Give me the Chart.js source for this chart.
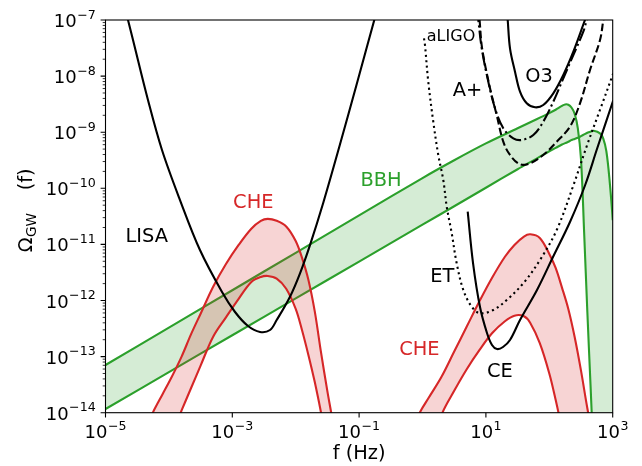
<!DOCTYPE html>
<html>
<head>
<meta charset="utf-8">
<script src="https://cdn.jsdelivr.net/npm/chart.js@4.4.1/dist/chart.umd.min.js"></script>
<style>
  html, body { margin: 0; padding: 0; background: #fff; }
  #wrap { width: 642px; height: 466px; }
</style>
</head>
<body>
<div id="wrap"><canvas id="c" width="642" height="466"></canvas></div>
<script>
// all values are log10: F = log10(f / Hz), O = log10(Omega_GW)

// detector curves
const lisaF = [-4.69, -4.645, -4.566, -4.33, -4.109, -3.825, -3.51, -3.162, -2.957, -2.752, -2.563, -2.405, -2.3, -2.09, -1.932, -1.776, -1.565, -1.301, -1.038, -0.757, -0.7];
const lisaO = [-6.8, -7.0, -7.357, -8.426, -9.317, -10.209, -11.1, -11.848, -12.205, -12.455, -12.561, -12.526, -12.348, -11.932, -11.515, -11.016, -10.257, -9.216, -8.144, -6.986, -6.77];

const o3F = [1.33, 1.344, 1.38, 1.459, 1.538, 1.644, 1.775, 1.905, 2.063, 2.221, 2.379, 2.563, 2.63];
const o3O = [-6.8, -7.0, -7.504, -7.921, -8.278, -8.485, -8.556, -8.515, -8.307, -7.98, -7.565, -7.0, -6.8];

const aplusF = [0.88, 0.9, 0.94, 1.065, 1.17, 1.274, 1.38, 1.538, 1.696, 1.905, 2.117, 2.326, 2.484, 2.642, 2.8, 2.852, 2.88];
const aplusO = [-6.8, -7.0, -7.504, -8.217, -8.693, -9.169, -9.406, -9.572, -9.554, -9.406, -9.169, -8.902, -8.485, -7.891, -7.357, -7.0, -6.8];

const ddF = [0.86, 0.88, 0.934, 1.038, 1.144, 1.274, 1.432, 1.565, 1.748, 1.905, 2.063, 2.221, 2.379, 2.536, 2.59, 2.64];
const ddO = [-6.8, -7.0, -7.504, -8.1, -8.574, -8.93, -9.109, -9.139, -9.05, -8.813, -8.456, -8.039, -7.624, -7.209, -7.0, -6.8];

const aligoF = [0.024, 0.039, 0.091, 0.17, 0.249, 0.328, 0.382, 0.461, 0.539, 0.644, 0.776, 0.907, 1.117, 1.328, 1.59, 1.853, 2.117, 2.379, 2.59, 2.8, 3.009, 3.1];
const aligoO = [-7.326, -7.446, -8.1, -8.813, -9.406, -9.852, -10.328, -10.802, -11.337, -11.813, -12.11, -12.228, -12.169, -11.991, -11.693, -11.278, -10.743, -9.95, -9.25, -8.6, -7.95, -7.66];

const ceF = [0.713, 0.797, 0.907, 1.017, 1.096, 1.175, 1.27, 1.38, 1.538, 1.806, 2.058, 2.326, 2.563, 2.752, 3.009, 3.1];
const ceO = [-10.417, -11.332, -12.116, -12.579, -12.793, -12.865, -12.829, -12.704, -12.348, -11.813, -11.225, -10.6, -9.95, -9.3, -8.43, -8.12];

// CHE bands (upper / lower edge on a shared frequency grid)
const cheLoF = [-4.35, -4.25, -4.1, -3.95, -3.8, -3.65, -3.5, -3.3, -3.1, -2.9, -2.7, -2.55, -2.44, -2.3, -2.15, -2.0, -1.9, -1.8, -1.7, -1.6, -1.5, -1.44, -1.35];
const cheLoUp = [-14.25, -13.99, -13.67, -13.35, -13.0, -12.6, -12.235, -11.75, -11.35, -11.01, -10.72, -10.58, -10.545, -10.58, -10.68, -10.94, -11.24, -11.63, -12.19, -12.93, -13.62, -14.0, -14.6];
const cheLoDn = [-15.5, -15.2, -14.8, -14.37, -13.96, -13.56, -13.16, -12.64, -12.3, -11.97, -11.67, -11.58, -11.563, -11.61, -11.79, -12.15, -12.53, -12.97, -13.45, -14.0, -14.6, -14.9, -15.4];

const cheHiF = [-0.15, -0.04, 0.1, 0.3, 0.5, 0.7, 0.9, 1.1, 1.3, 1.45, 1.6, 1.7, 1.85, 2.0, 2.1, 2.2, 2.3, 2.4, 2.5, 2.6, 2.7];
const cheHiUp = [-14.25, -13.99, -13.73, -13.36, -12.91, -12.46, -12.01, -11.59, -11.22, -11.01, -10.86, -10.82, -10.885, -11.17, -11.42, -11.77, -12.15, -12.65, -13.25, -13.92, -14.5];
const cheHiDn = [-15.6, -15.3, -14.8, -14.04, -13.61, -13.22, -12.88, -12.58, -12.37, -12.27, -12.28, -12.4, -12.76, -13.3, -13.77, -14.3, -14.9, -15.5, -16.0, -16.5, -17.0];

// BBH band
const bbhF = [-5.1, -5, -4, -3, -2, -1, 0, 0.5, 1, 1.5, 1.8, 2.0, 2.1, 2.2, 2.25, 2.3, 2.35, 2.4, 2.45, 2.5, 2.55, 2.6, 2.65, 2.7, 2.8, 2.85, 2.9, 2.95, 3.0, 3.05, 3.1, 3.2];
const bbhUp = [-13.217, -13.15, -12.483, -11.817, -11.15, -10.483, -9.817, -9.5, -9.2, -8.93, -8.77, -8.66, -8.6, -8.53, -8.505, -8.51, -8.56, -8.67, -8.93, -9.48, -10.8, -12.2, -13.5, -14.8, -17, -18, -18.5, -19, -19.5, -20, -20.5, -21];
const bbhDn = [-14.0, -13.934, -13.277, -12.62, -11.963, -11.306, -10.649, -10.32, -9.99, -9.66, -9.47, -9.34, -9.28, -9.22, -9.195, -9.17, -9.14, -9.12, -9.1, -9.07, -9.04, -9.01, -8.99, -8.975, -9.02, -9.11, -9.34, -9.85, -10.57, -11.7, -13.2, -16];

// axes
const xTickExp = [-5, -3, -1, 1, 3];
const yTickExp = [-14, -13, -12, -11, -10, -9, -8, -7];

// text labels: [text, log10 f, log10 Omega, colour, font px]
const notes = [
    ['LISA', -4.35, -10.868, '#000', 19.4],
    ['CHE', -2.669, -10.267, '#d62728', 19.4],
    ['BBH', -0.655, -9.861, '#2ca02c', 19.4],
    ['aLIGO', 0.45, -7.303, '#000', 16],
    ['A+', 0.71, -8.26, '#000', 19.4],
    ['O3', 1.838, -8.011, '#000', 19.4],
    ['ET', 0.312, -11.576, '#000', 19.4],
    ['CHE', -0.05, -12.873, '#d62728', 19.4],
    ['CE', 1.222, -13.275, '#000', 19.4]
];

const FONT = '"DejaVu Sans", sans-serif';
const RED = '#d62728', GREEN = '#2ca02c';

function pts(fx, oy) {
    return fx.map((e, i) => ({ x: Math.pow(10, e), y: Math.pow(10, oy[i]) }));
}

function curve(fx, oy, color, dash, extra) {
    return Object.assign({
        data: pts(fx, oy),
        borderColor: color,
        borderWidth: 2.1,
        borderDash: dash,
        borderCapStyle: 'butt',
        pointRadius: 0,
        fill: false,
        tension: 0.35,
        clip: 0
    }, extra || {});
}

// draws 10^exp the way matplotlib's mathtext does
function drawPow(ctx, exp, x, base, align) {
    const main = '10';
    const sup = (exp < 0 ? '\u2212' : '') + Math.abs(exp);
    ctx.font = '18px ' + FONT;
    const wm = ctx.measureText(main).width;
    ctx.font = '12.6px ' + FONT;
    const ws = ctx.measureText(sup).width;
    const w = wm + 0.5 + ws;
    const x0 = align === 'right' ? x - w : x - w / 2;
    ctx.textAlign = 'left';
    ctx.textBaseline = 'alphabetic';
    ctx.font = '18px ' + FONT;
    ctx.fillText(main, x0, base);
    ctx.font = '12.6px ' + FONT;
    ctx.fillText(sup, x0 + wm + 0.5, base - 8.5);
}

const axesPlugin = {
    id: 'axesPlugin',
    afterDraw(chart) {
        const { ctx, chartArea: a } = chart;
        const xs = chart.scales.x, ys = chart.scales.y;
        ctx.save();
        ctx.fillStyle = '#000';
        ctx.strokeStyle = '#000';

        // annotations
        ctx.textAlign = 'center';
        ctx.textBaseline = 'middle';
        notes.forEach(n => {
            ctx.font = n[4] + 'px ' + FONT;
            ctx.fillStyle = n[3];
            ctx.fillText(n[0], xs.getPixelForValue(Math.pow(10, n[1])), ys.getPixelForValue(Math.pow(10, n[2])));
        });
        ctx.fillStyle = '#000';

        // spines
        ctx.lineWidth = 1.1;
        ctx.strokeRect(a.left, a.top, a.right - a.left, a.bottom - a.top);

        // major ticks
        ctx.beginPath();
        xTickExp.forEach(e => {
            const px = xs.getPixelForValue(Math.pow(10, e));
            ctx.moveTo(px, a.bottom);
            ctx.lineTo(px, a.bottom + 4.9);
        });
        yTickExp.forEach(e => {
            const py = ys.getPixelForValue(Math.pow(10, e));
            ctx.moveTo(a.left - 4.9, py);
            ctx.lineTo(a.left, py);
        });
        ctx.stroke();

        // minor ticks on y
        ctx.lineWidth = 0.8;
        ctx.beginPath();
        for (let e = -14; e < -7; e++) {
            for (let k = 2; k <= 9; k++) {
                const py = ys.getPixelForValue(k * Math.pow(10, e));
                ctx.moveTo(a.left - 2.8, py);
                ctx.lineTo(a.left, py);
            }
        }
        ctx.stroke();

        // tick labels
        xTickExp.forEach(e => drawPow(ctx, e, xs.getPixelForValue(Math.pow(10, e)), 438, 'center'));
        yTickExp.forEach(e => drawPow(ctx, e, a.left - 9.8, ys.getPixelForValue(Math.pow(10, e)) + 7, 'right'));

        // axis titles
        ctx.font = '19.4px ' + FONT;
        ctx.textAlign = 'center';
        ctx.textBaseline = 'alphabetic';
        ctx.fillText('f (Hz)', (a.left + a.right) / 2, 459);

        // y title, rotated; offsets along the text run from the axis centre
        ctx.save();
        ctx.translate(32, (a.top + a.bottom) / 2);
        ctx.rotate(-Math.PI / 2);
        ctx.textAlign = 'left';
        ctx.font = '19.4px ' + FONT;
        const wO = ctx.measureText('\u03A9').width;
        ctx.fillText('\u03A9', -36, 0);
        ctx.font = '13.6px ' + FONT;
        ctx.fillText('GW', -36 + wO + 0.5, 4);
        ctx.font = '19.4px ' + FONT;
        ctx.fillText('(f)', 26, 0);
        ctx.restore();

        ctx.restore();
    }
};

new Chart(document.getElementById('c'), {
    type: 'line',
    data: {
        datasets: [
            curve(lisaF, lisaO, '#000', []),
            curve(o3F, o3O, '#000', []),
            curve(aplusF, aplusO, '#000', [7.7, 3.3]),
            curve(ddF, ddO, '#000', [13.3, 3.3, 2.1, 3.3]),
            curve(aligoF, aligoO, '#000', [2.1, 3.4]),
            curve(ceF, ceO, '#000', []),
            curve(cheLoF, cheLoUp, RED, [], { fill: '+1', backgroundColor: 'rgba(214,39,40,0.2)' }),
            curve(cheLoF, cheLoDn, RED, []),
            curve(cheHiF, cheHiUp, RED, [], { fill: '+1', backgroundColor: 'rgba(214,39,40,0.2)' }),
            curve(cheHiF, cheHiDn, RED, []),
            curve(bbhF, bbhUp, GREEN, [], { fill: '+1', backgroundColor: 'rgba(44,160,44,0.2)' }),
            curve(bbhF, bbhDn, GREEN, [])
        ]
    },
    options: {
        responsive: false,
        animation: false,
        devicePixelRatio: 1,
        layout: { padding: { left: 0, right: 29.3, top: 20, bottom: 0 } },
        plugins: { legend: { display: false }, tooltip: { enabled: false } },
        scales: {
            x: {
                type: 'logarithmic',
                min: 1e-5,
                max: 1e3,
                grid: { display: false },
                border: { display: false },
                ticks: { display: false },
                afterFit: s => { s.height = 53.3; }
            },
            y: {
                type: 'logarithmic',
                min: 1e-14,
                max: 1e-7,
                grid: { display: false },
                border: { display: false },
                ticks: { display: false },
                afterFit: s => { s.width = 105.5; }
            }
        }
    },
    plugins: [axesPlugin]
});
</script>
</body>
</html>
